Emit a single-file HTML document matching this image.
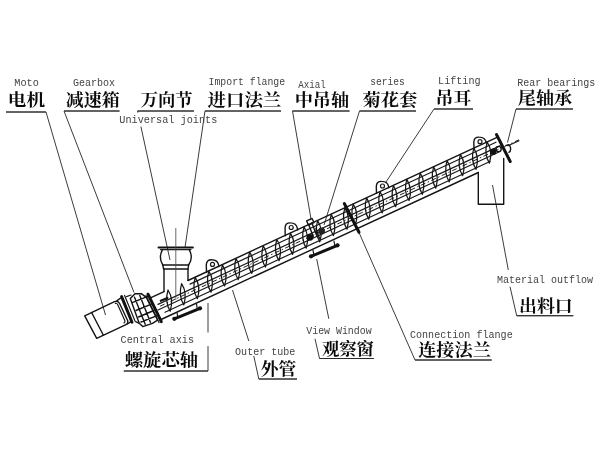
<!DOCTYPE html>
<html><head><meta charset="utf-8"><title>Screw conveyor structure</title>
<style>
html,body{margin:0;padding:0;background:#fff;}
body{width:600px;height:450px;overflow:hidden;font-family:"Liberation Mono",monospace;}
svg{display:block;position:absolute;left:0;top:0;filter:blur(.45px);}
.m{stroke:#141414;stroke-width:1.4;stroke-linecap:round;stroke-linejoin:round;fill:none}
.t{stroke:#1a1a1a;stroke-width:1.2;stroke-linecap:round;fill:none}
.f{stroke:#161616;stroke-width:1.25;stroke-linejoin:round;fill:none}
.ld{stroke:#3c3c3c;stroke-width:1.0;fill:none;stroke-linejoin:round}
.ul{stroke:#2a2a2a;stroke-width:1.15;fill:none}
.cl{stroke:#222;stroke-width:1;stroke-dasharray:5 2.5 1.5 2.5;fill:none}
.cl2{stroke:#444;stroke-width:.8;fill:none}
.k2{stroke:#111;stroke-width:2.2;stroke-linecap:round;fill:none}
.k3{stroke:#111;stroke-width:3;stroke-linecap:round;fill:none}
.bar{stroke:#111;stroke-width:3;stroke-linecap:round;fill:none}
.cn{fill:#0a0a0a;font-family:"Liberation Serif","Noto Serif CJK SC",serif;font-weight:bold;font-size:17px}
.en{fill:#444;font-family:"Liberation Mono",monospace;font-size:10px}
</style></head>
<body>
<svg width="600" height="450" viewBox="0 0 600 450">
<rect width="600" height="450" fill="#fff"/>
<g id="leaders">
<polyline class="ld" points="6.0,112.0 46.0,112.0 105.5,315.0"/>
<polyline class="ld" points="119.5,111.0 64.0,111.0 134.0,292.5"/>
<polyline class="ld" points="194.0,111.0 137.5,111.0 137.9,112.6"/>
<polyline class="ld" points="140.9,126.5 170.0,260.0"/>
<polyline class="ld" points="281.0,111.0 205.0,111.0 185.0,247.5"/>
<polyline class="ld" points="349.5,111.0 292.5,111.0 311.0,219.0"/>
<polyline class="ld" points="416.0,111.0 359.5,111.0 324.0,225.0"/>
<polyline class="ld" points="473.0,109.0 434.0,109.0 386.0,182.0"/>
<polyline class="ld" points="573.0,109.0 516.0,109.0 507.5,142.5"/>
<polyline class="ld" points="123.8,371.0 208.0,371.0 208.0,346.0"/>
<polyline class="ld" points="208.0,332.5 208.0,303.0"/>
<polyline class="ld" points="232.5,290.0 248.8,341.0"/>
<polyline class="ld" points="253.8,356.0 258.8,379.0 297.0,379.0"/>
<polyline class="ld" points="316.7,259.0 328.8,318.8"/>
<polyline class="ld" points="315.0,338.8 319.5,358.5 373.8,358.5"/>
<polyline class="ld" points="359.0,232.5 415.0,360.0 491.7,360.0"/>
<polyline class="ld" points="492.5,185.0 508.3,270.0"/>
<polyline class="ld" points="510.0,286.7 516.7,315.7 573.3,315.7"/>
<path class="ul" d="M6.0 112.0L46.0 112.0"/>
<path class="ul" d="M64.0 111.0L119.5 111.0"/>
<path class="ul" d="M137.5 111.0L194.0 111.0"/>
<path class="ul" d="M205.0 111.0L281.0 111.0"/>
<path class="ul" d="M292.5 111.0L349.5 111.0"/>
<path class="ul" d="M359.5 111.0L416.0 111.0"/>
<path class="ul" d="M434.0 109.0L473.0 109.0"/>
<path class="ul" d="M516.0 109.0L573.0 109.0"/>
<path class="ul" d="M123.8 371.0L208.0 371.0"/>
<path class="ul" d="M258.8 379.0L297.0 379.0"/>
<path class="ul" d="M319.5 358.5L373.8 358.5"/>
<path class="ul" d="M415.0 360.0L491.7 360.0"/>
<path class="ul" d="M516.7 315.7L573.3 315.7"/>
</g>
<g id="tube">
<path class="m" d="M188.0 280.5L497.0 137.3"/>
<path class="m" d="M151.0 297.7L164.0 291.6"/>
<path class="m" d="M160.0 320.0L478.3 172.5"/>
<path class="t" d="M190.0 284.1L496.0 142.2"/>
<path class="t" d="M158.0 304.4L500.0 145.9"/>
<path class="t" d="M158.0 310.0L500.0 151.5"/>
<path class="t" d="M165.0 312.2L490.0 161.5"/>
<path class="cl" d="M160.0 306.2L519.0 139.8"/>
<path class="f" d="M168.0 290.0Q164.5 302.1 170.2 311.2Q173.9 299.1 168.0 290.0Z"/>
<path class="f" d="M181.6 283.7Q178.1 295.8 183.8 304.9Q187.5 292.8 181.6 283.7Z"/>
<path class="f" d="M195.2 277.4Q191.7 289.5 197.4 298.6Q201.1 286.5 195.2 277.4Z"/>
<path class="f" d="M208.8 271.1Q205.3 283.2 211.0 292.2Q214.7 280.2 208.8 271.1Z"/>
<path class="f" d="M222.4 264.8Q218.9 276.9 224.6 285.9Q228.3 273.9 222.4 264.8Z"/>
<path class="f" d="M236.0 258.5Q232.5 270.5 238.2 279.6Q241.9 267.5 236.0 258.5Z"/>
<path class="f" d="M249.6 252.2Q246.1 264.2 251.8 273.3Q255.5 261.2 249.6 252.2Z"/>
<path class="f" d="M263.2 245.9Q259.7 257.9 265.4 267.0Q269.1 254.9 263.2 245.9Z"/>
<path class="f" d="M276.8 239.5Q273.3 251.6 279.0 260.7Q282.7 248.6 276.8 239.5Z"/>
<path class="f" d="M290.4 233.2Q286.9 245.3 292.6 254.4Q296.3 242.3 290.4 233.2Z"/>
<path class="f" d="M304.0 226.9Q300.5 239.0 306.2 248.1Q309.9 236.0 304.0 226.9Z"/>
<path class="f" d="M317.6 220.6Q314.1 232.7 319.8 241.8Q323.5 229.7 317.6 220.6Z"/>
<path class="f" d="M331.2 214.3Q327.7 226.4 333.4 235.5Q337.1 223.4 331.2 214.3Z"/>
<path class="f" d="M344.8 208.0Q341.3 220.1 347.0 229.2Q350.7 217.1 344.8 208.0Z"/>
<path class="f" d="M353.2 204.1Q349.7 216.2 355.4 225.3Q359.1 213.2 353.2 204.1Z"/>
<path class="f" d="M366.6 197.9Q363.1 210.0 368.8 219.1Q372.5 207.0 366.6 197.9Z"/>
<path class="f" d="M380.0 191.7Q376.5 203.8 382.2 212.9Q385.9 200.8 380.0 191.7Z"/>
<path class="f" d="M393.4 185.5Q389.9 197.6 395.6 206.7Q399.3 194.6 393.4 185.5Z"/>
<path class="f" d="M406.8 179.3Q403.3 191.4 409.0 200.5Q412.7 188.4 406.8 179.3Z"/>
<path class="f" d="M420.2 173.1Q416.7 185.2 422.4 194.3Q426.1 182.2 420.2 173.1Z"/>
<path class="f" d="M433.6 166.9Q430.1 179.0 435.8 188.1Q439.5 176.0 433.6 166.9Z"/>
<path class="f" d="M447.0 160.7Q443.5 172.8 449.2 181.8Q452.9 169.8 447.0 160.7Z"/>
<path class="f" d="M460.4 154.4Q456.9 166.5 462.6 175.6Q466.3 163.5 460.4 154.4Z"/>
<path class="f" d="M473.8 148.2Q470.3 160.3 476.0 169.4Q479.7 157.3 473.8 148.2Z"/>
<path class="f" d="M487.2 142.0Q483.7 154.1 489.4 163.2Q493.1 151.1 487.2 142.0Z"/>
</g>
<path class="m" fill="#fff" d="M206.5 272.2L206.3 264.9Q206.5 259.6 211.7 259.8Q217.7 259.8 218.7 265.4L218.9 266.5"/><circle class="t" fill="none" cx="212.5" cy="264.4" r="2"/>
<path class="m" fill="#fff" d="M285.2 235.7L285.1 228.0Q285.2 222.7 290.4 222.9Q296.4 222.9 297.4 228.5L297.6 230.0"/><circle class="t" fill="none" cx="291.2" cy="227.5" r="2"/>
<path class="m" fill="#fff" d="M376.5 193.4L376.3 186.5Q376.5 181.2 381.7 181.4Q387.7 181.4 388.7 187.0L388.9 187.7"/><circle class="t" fill="none" cx="382.5" cy="186.0" r="2"/>
<path class="m" fill="#fff" d="M474.0 148.2L473.8 142.2Q474.0 136.9 479.2 137.1Q485.2 137.1 486.2 142.7L486.4 142.5"/><circle class="t" fill="none" cx="480.0" cy="141.7" r="2"/>
<g id="hanger">
<rect class="m" fill="#fff" x="-3" y="-2.3" width="6" height="4.6" transform="translate(310.3 221.8) rotate(-24.9)"/>
<path class="m" d="M308.6 224.3L313.2 236.5M311.9 222.9L316.6 235.2"/>
<circle cx="310" cy="237.3" r="3.4" fill="#111"/>
<circle cx="321.6" cy="231" r="3.4" fill="#222"/>
<path class="m" d="M316 228.5L319.5 238.5"/>
</g>
<path class="k3" d="M344.3 203.5L359 232.3"/>
<path class="k3" d="M496.5 134.5L510.2 161.5"/>
<path class="bar" d="M311 256.3L337.5 245.3"/>
<path class="bar" d="M174.3 318.8L200 308.3"/>
<path class="t" d="M313 250L313.8 255 M334 241L335 246.5"/>
<circle cx="311.0" cy="256.3" r="2.1" fill="#111"/>
<circle cx="337.5" cy="245.3" r="2.1" fill="#111"/>
<circle cx="174.3" cy="318.8" r="2.1" fill="#111"/>
<circle cx="200.0" cy="308.3" r="2.1" fill="#111"/>
<path class="k2" d="M160.8 300.8L167.4 297.9"/>
<path class="t" d="M177 312.5L177.8 317.3 M196.5 304.2L197.3 309.2"/>
<circle cx="493.2" cy="151.8" r="3.3" fill="#111"/>
<circle class="m" cx="498.6" cy="149" r="2.6" fill="#fff"/>
<path class="m" fill="#fff" d="M505.8 145.5Q509.5 143.6 510.4 147.2Q511.2 151.3 508.9 152.3"/>
<path class="t" d="M508.0 145.8L519.0 140.8"/>
<path class="m" fill="none" d="M478.3 172.5L478.3 204.2L503.7 204.2L503.7 158.5"/>
<g id="inlet">
<path class="k2" d="M158.6 247.5L192.8 247.5"/>
<path class="t" d="M160.5 249.6L191 249.6"/>
<path class="m" fill="none" d="M162.4 249.6Q158.2 258 162.8 265 M189.3 249.6Q193.6 258 188.6 265"/>
<path class="m" d="M162.8 265L188.6 265M163.6 269L188 269M162.8 265L163.6 269M188.6 265L188 269"/>
<path class="m" d="M164 269L164 291.6M188 269L188 280.4"/>
<path class="cl2" d="M175.8 228L175.8 300"/>
</g>
<g id="drive">
<path class="k3" d="M148 294.2L161.3 321.6"/>
<path class="t" d="M146 295.4L159 322.6"/>
<path class="m" fill="#fff" d="M130.3 298.6L135 293.8L141.3 293.6L146.3 297.4L157.6 320.2L152.5 323.4L142.8 326.6L139.2 323.2Z"/>
<path class="m" d="M134.5 297.2L145.2 324.3M139.8 295.5L150.5 322.5M132.2 302.6L147.8 296.4M136 310.5L152 303.8M138.6 317L155 310M141 322L156.5 315.8"/>
<path class="k3" d="M121.6 296.6L132 322.2"/>
<path class="t" d="M124.6 295.4L135 321"/>
<path class="t" d="M126.5 296.6L131 295 M135.6 321.6L139.4 323.4"/>
<path class="m" fill="#fff" d="M84.7 315.8L114.5 301.6Q118.2 300.4 119.6 303.5L127.6 320.5Q128.6 323.4 126 324.6L96.7 338.3Z"/>
<path class="m" d="M91.6 312.5L103.4 335.2"/>
<path class="t" d="M115.4 303.4Q116.8 302.8 117.6 304.6L124.8 320.4Q125.4 322.2 124 323"/>
<path class="m" d="M117 300.6L120.6 298.2M127.4 324L131.2 321.6"/>
</g>
<g class="cn">
<text x="7.8" y="105.8" textLength="37.3" lengthAdjust="spacingAndGlyphs">电机</text>
<text x="65.8" y="105.8" textLength="53.9" lengthAdjust="spacingAndGlyphs">减速箱</text>
<text x="140.7" y="105.8" textLength="51.9" lengthAdjust="spacingAndGlyphs">万向节</text>
<text x="207.5" y="105.8" textLength="73.8" lengthAdjust="spacingAndGlyphs">进口法兰</text>
<text x="294.7" y="105.8" textLength="54.5" lengthAdjust="spacingAndGlyphs">中吊轴</text>
<text x="362.4" y="105.8" textLength="54.8" lengthAdjust="spacingAndGlyphs">菊花套</text>
<text x="435.6" y="104.3" textLength="35.8" lengthAdjust="spacingAndGlyphs">吊耳</text>
<text x="517.8" y="104.3" textLength="54.3" lengthAdjust="spacingAndGlyphs">尾轴承</text>
<text x="124.7" y="366.2" textLength="73.5" lengthAdjust="spacingAndGlyphs">螺旋芯轴</text>
<text x="260.8" y="375.2" textLength="35.4" lengthAdjust="spacingAndGlyphs">外管</text>
<text x="321.9" y="355.3" textLength="52.1" lengthAdjust="spacingAndGlyphs">观察窗</text>
<text x="418.2" y="356.3" textLength="72.7" lengthAdjust="spacingAndGlyphs">连接法兰</text>
<text x="519.0" y="311.6" textLength="53.8" lengthAdjust="spacingAndGlyphs">出料口</text>
</g>
<g class="en">
<text x="14.3" y="85.5" textLength="24.5" lengthAdjust="spacingAndGlyphs">Moto</text>
<text x="73.0" y="86" textLength="42" lengthAdjust="spacingAndGlyphs">Gearbox</text>
<text x="119.3" y="123" textLength="98" lengthAdjust="spacingAndGlyphs">Universal joints</text>
<text x="208.6" y="85" textLength="76.5" lengthAdjust="spacingAndGlyphs">Import flange</text>
<text x="298.2" y="87.5" textLength="27.5" lengthAdjust="spacingAndGlyphs">Axial</text>
<text x="370.2" y="85" textLength="34.5" lengthAdjust="spacingAndGlyphs">series</text>
<text x="438.1" y="83.5" textLength="42.5" lengthAdjust="spacingAndGlyphs">Lifting</text>
<text x="517.2" y="86" textLength="78" lengthAdjust="spacingAndGlyphs">Rear bearings</text>
<text x="120.6" y="343" textLength="73.5" lengthAdjust="spacingAndGlyphs">Central axis</text>
<text x="235.1" y="355" textLength="60.3" lengthAdjust="spacingAndGlyphs">Outer tube</text>
<text x="306.3" y="333.75" textLength="65.3" lengthAdjust="spacingAndGlyphs">View Window</text>
<text x="410.0" y="338.3" textLength="102.7" lengthAdjust="spacingAndGlyphs">Connection flange</text>
<text x="496.9" y="283.3" textLength="96" lengthAdjust="spacingAndGlyphs">Material outflow</text>
</g>
</svg>
</body></html>
